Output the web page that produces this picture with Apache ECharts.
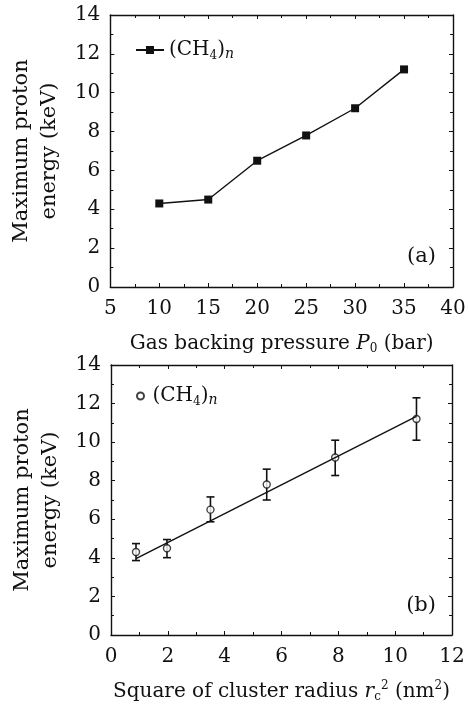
<!DOCTYPE html>
<html>
<head>
    <meta charset="utf-8">
    <title>Maximum proton energy</title>
    <script src="https://cdn.jsdelivr.net/npm/echarts@6/dist/echarts.min.js"></script>
    <style>
        html, body { margin: 0; padding: 0; background: #fff; }
        #chart { width: 469px; height: 704px; }
    </style>
</head>
<body>
    <div id="chart"></div>
    <script>
        // panel (a)
        var pressure = [10, 15, 20, 25, 30, 35];
        var energyA = [4.3, 4.5, 6.5, 7.8, 9.2, 11.2];
        // panel (b)
        var radiusSq = [0.88, 1.97, 3.5, 5.48, 7.89, 10.75];
        var energyB = [4.3, 4.5, 6.5, 7.8, 9.2, 11.2];
        var errLow = [3.86, 4.01, 5.87, 7.0, 8.27, 10.1];
        var errHigh = [4.74, 4.95, 7.16, 8.6, 10.1, 12.3];
        // linear fit end points
        var fitX = [0.88, 10.75];
        var fitY = [3.96, 11.33];

        var font = 'DejaVu Serif';
        var ink = '#111';
        var rich = {
            t: { fontFamily: font, fontSize: 20, color: ink },
            i: { fontFamily: font, fontSize: 20, color: ink, fontStyle: 'italic' },
            sub: { fontFamily: font, fontSize: 12, color: ink, padding: [11, 0, 0, 0] },
            sup: { fontFamily: font, fontSize: 12, color: ink, padding: [0, 0, 11, 0] },
            n: { fontFamily: font, fontSize: 14, color: ink, fontStyle: 'italic', padding: [9, 0, 0, 0] }
        };

        function mainX(gi, min, max, interval, name) {
            return {
                gridIndex: gi, type: 'value', min: min, max: max, interval: interval,
                name: name, nameLocation: 'middle', nameGap: 45,
                nameTextStyle: { rich: rich },
                axisLine: { onZero: false, lineStyle: { color: ink, width: 1.4 } },
                axisTick: { inside: true, length: 4, lineStyle: { color: ink } },
                minorTick: { show: true, splitNumber: 2, length: 3, lineStyle: { color: ink } },
                axisLabel: { fontFamily: font, fontSize: 20, color: ink, margin: 12 },
                splitLine: { show: false }
            };
        }
        function mirrorX(gi, min, max, interval) {
            return {
                gridIndex: gi, type: 'value', position: 'top', min: min, max: max, interval: interval,
                axisLine: { show: true, onZero: false, lineStyle: { color: ink, width: 1.4 } },
                axisTick: { show: true, inside: true, length: 4, lineStyle: { color: ink } },
                minorTick: { show: true, splitNumber: 2, length: 3, lineStyle: { color: ink } },
                axisLabel: { show: false },
                splitLine: { show: false }
            };
        }
        function mainY(gi) {
            return {
                gridIndex: gi, type: 'value', min: 0, max: 14, interval: 2,
                name: 'Maximum proton\nenergy (keV)', nameLocation: 'middle', nameGap: 39,
                nameTextStyle: { fontFamily: font, fontSize: 21, color: ink, lineHeight: 28 },
                axisLine: { show: true, onZero: false, lineStyle: { color: ink, width: 1.4 } },
                axisTick: { show: true, inside: true, length: 4, lineStyle: { color: ink } },
                minorTick: { show: true, splitNumber: 2, length: 3, lineStyle: { color: ink } },
                axisLabel: { fontFamily: font, fontSize: 20, color: ink, margin: 10 },
                splitLine: { show: false }
            };
        }
        function mirrorY(gi) {
            return {
                gridIndex: gi, type: 'value', position: 'right', min: 0, max: 14, interval: 2,
                axisLine: { show: true, onZero: false, lineStyle: { color: ink, width: 1.4 } },
                axisTick: { show: true, inside: true, length: 4, lineStyle: { color: ink } },
                minorTick: { show: true, splitNumber: 2, length: 3, lineStyle: { color: ink } },
                axisLabel: { show: false },
                splitLine: { show: false }
            };
        }

        var legendLabel = '{t|(CH}{sub|4}{t|)}{n|n}';

        var myChart = echarts.init(document.getElementById('chart'), null, { renderer: 'canvas' });
        var option = {
            backgroundColor: '#fff',
            animation: false,
            grid: [
                { left: 109, right: 16, top: 15, height: 272 },
                { left: 111, right: 17, top: 365, height: 270 }
            ],
            xAxis: [
                mainX(0, 5, 40, 5, '{t|Gas backing pressure }{i|P}{sub|0}{t| (bar)}'),
                mirrorX(0, 5, 40, 5),
                mainX(1, 0, 12, 2, '{t|Square of cluster radius }{i|r}{sub|c}{sup|2}{t| (nm}{sup|2}{t|)}'),
                mirrorX(1, 0, 12, 2)
            ],
            yAxis: [mainY(0), mirrorY(0), mainY(1), mirrorY(1)],
            legend: [
                {
                    left: 130, top: 35, itemWidth: 28, itemHeight: 10, itemGap: 6,
                    data: ['(CH4)n a'],
                    formatter: function () { return legendLabel; },
                    textStyle: { rich: rich }
                },
                {
                    left: 131, top: 381, itemWidth: 14, itemHeight: 7,
                    data: ['(CH4)n b'],
                    formatter: function () { return legendLabel; },
                    textStyle: { rich: rich }
                }
            ],
            graphic: [
                { type: 'text', right: 33, top: 246, style: { text: '(a)', font: '21px "DejaVu Serif"', fill: ink } },
                { type: 'text', right: 33, top: 595, style: { text: '(b)', font: '21px "DejaVu Serif"', fill: ink } }
            ],
            series: [
                {
                    name: '(CH4)n a', type: 'line', xAxisIndex: 0, yAxisIndex: 0,
                    data: pressure.map(function (x, i) { return [x, energyA[i]]; }),
                    symbol: 'rect', symbolSize: 8,
                    itemStyle: { color: ink },
                    lineStyle: { color: ink, width: 1.4 }
                },
                {
                    type: 'line', xAxisIndex: 2, yAxisIndex: 2,
                    data: fitX.map(function (x, i) { return [x, fitY[i]]; }),
                    symbol: 'none',
                    lineStyle: { color: ink, width: 1.4 }
                },
                {
                    type: 'custom', xAxisIndex: 2, yAxisIndex: 2,
                    data: radiusSq.map(function (x, i) { return [x, errLow[i], errHigh[i]]; }),
                    encode: { x: 0, y: [1, 2] },
                    renderItem: function (params, api) {
                        var lo = api.coord([api.value(0), api.value(1)]);
                        var hi = api.coord([api.value(0), api.value(2)]);
                        var w = 4;
                        var st = { stroke: ink, lineWidth: 1.6 };
                        return {
                            type: 'group',
                            children: [
                                { type: 'line', shape: { x1: lo[0], y1: lo[1], x2: hi[0], y2: hi[1] }, style: st },
                                { type: 'line', shape: { x1: lo[0] - w, y1: lo[1], x2: lo[0] + w, y2: lo[1] }, style: st },
                                { type: 'line', shape: { x1: hi[0] - w, y1: hi[1], x2: hi[0] + w, y2: hi[1] }, style: st }
                            ]
                        };
                    }
                },
                {
                    name: '(CH4)n b', type: 'scatter', xAxisIndex: 2, yAxisIndex: 2,
                    data: radiusSq.map(function (x, i) { return [x, energyB[i]]; }),
                    symbol: 'circle', symbolSize: 7,
                    itemStyle: { color: '#fff', borderColor: ink, borderWidth: 1.4 }
                }
            ]
        };
        myChart.setOption(option);
    </script>
</body>
</html>
